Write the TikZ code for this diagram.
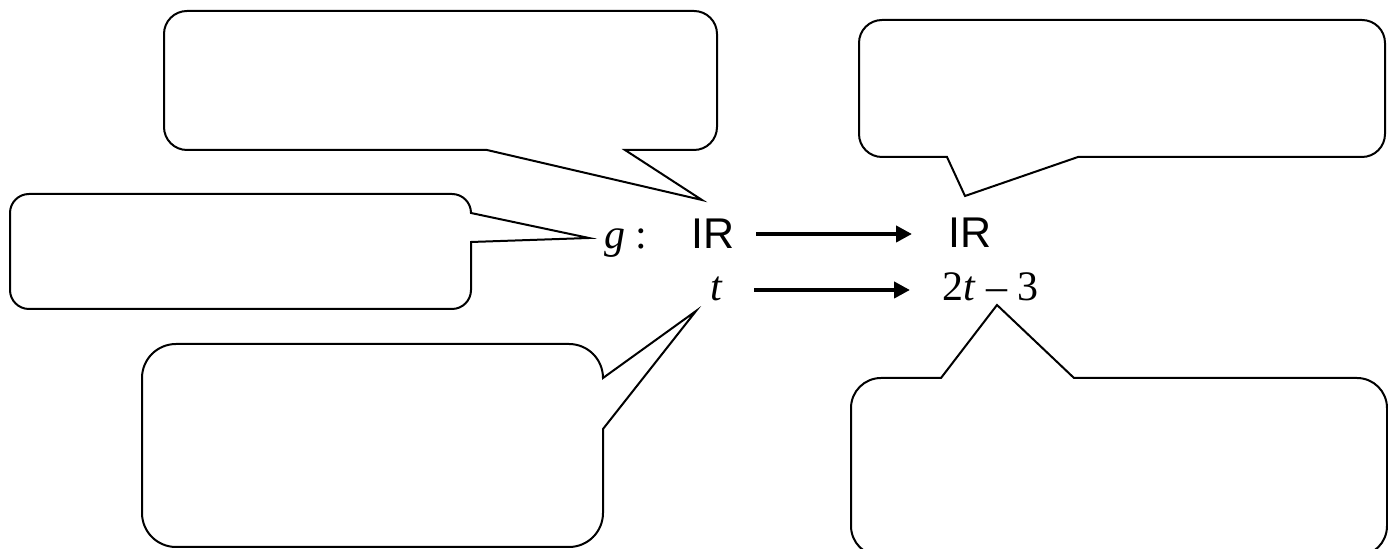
\documentclass[tikz,border=0pt]{standalone}
\usepackage{fontspec}
\setmainfont{Liberation Serif}
\newfontfamily\arialf{Liberation Sans}
\usetikzlibrary{arrows.meta}
\begin{document}
\begin{tikzpicture}[x=0.5pt,y=-0.5pt,
  callout/.style={draw=black,line width=1pt,line join=miter},
  txt/.style={inner sep=0pt,anchor=base west,font=\fontsize{21}{25}\selectfont},
  sanstxt/.style={inner sep=0pt,anchor=base west,font=\arialf\fontsize{21.5}{25}\selectfont},
  maparrow/.style={line width=2pt,-{Triangle[length=8pt,width=8pt]}}]
\useasboundingbox (0,0) rectangle (1388,549);
\fill[white] (0,0) rectangle (1388,549);

% callouts
\draw[callout] (187,11) -- (694,11) arc[start angle=270,end angle=360,radius=23] -- (717,127) arc[start angle=0,end angle=90,radius=23] -- (625,150) -- (702,200) -- (487,150) -- (187,150) arc[start angle=90,end angle=180,radius=23] -- (164,34) arc[start angle=180,end angle=270,radius=23] -- cycle;
\draw[callout] (29,194) -- (452,194) arc[start angle=270,end angle=360,radius=19] -- (589,238) -- (471,242) -- (471,290) arc[start angle=0,end angle=90,radius=19] -- (29,309) arc[start angle=90,end angle=180,radius=19] -- (10,213) arc[start angle=180,end angle=270,radius=19] -- cycle;
\draw[callout] (176,344) -- (569,344) arc[start angle=270,end angle=360,radius=34] -- (696,311) -- (603,429) -- (603,513) arc[start angle=0,end angle=90,radius=34] -- (176,547) arc[start angle=90,end angle=180,radius=34] -- (142,378) arc[start angle=180,end angle=270,radius=34] -- cycle;
\draw[callout] (882,20) -- (1362,20) arc[start angle=270,end angle=360,radius=23] -- (1385,134) arc[start angle=0,end angle=90,radius=23] -- (1078,157) -- (965,196) -- (947,157) -- (882,157) arc[start angle=90,end angle=180,radius=23] -- (859,43) arc[start angle=180,end angle=270,radius=23] -- cycle;
\draw[callout] (881,378) -- (941,378) -- (997,305) -- (1074,378) -- (1357,378) arc[start angle=270,end angle=360,radius=30] -- (1387,526) arc[start angle=0,end angle=90,radius=30] -- (881,556) arc[start angle=90,end angle=180,radius=30] -- (851,408) arc[start angle=180,end angle=270,radius=30] -- cycle;

% texts
\node[txt] (g) at (604,249) {\textit{g} :};
\node[sanstxt] (IRa) at (691,249) {IR};
\node[sanstxt] (IRb) at (948,248) {IR};
\node[txt] (t) at (710,301) {\textit{t}};
\node[txt] (img) at (942,301) {2\textit{t} – 3};

% arrows
\coordinate (a1s) at (756,234);
\coordinate (a1e) at (912,234);
\coordinate (a2s) at (754,290);
\coordinate (a2e) at (910,290);
\draw[maparrow] (a1s) -- (a1e);
\draw[maparrow] (a2s) -- (a2e);
\end{tikzpicture}
\end{document}
